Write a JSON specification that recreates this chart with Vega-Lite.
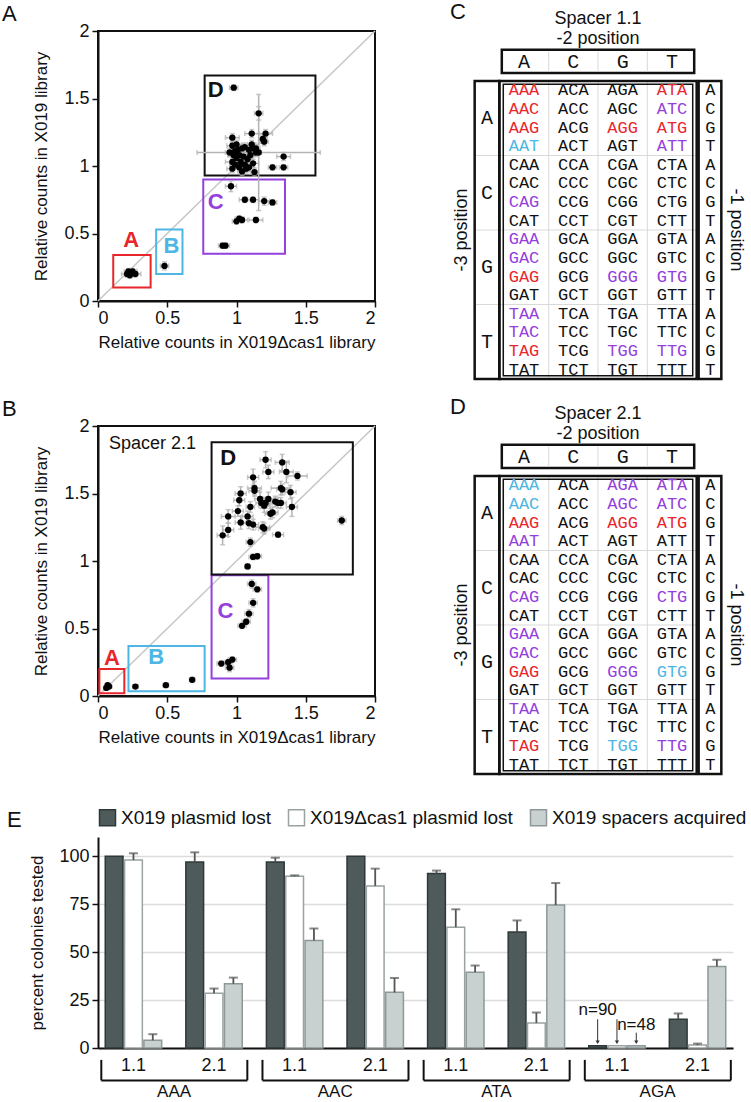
{
"$schema":"https://vega.github.io/schema/vega-lite/v6.json",
"background":"white",
"padding":{"left":0,"top":0,"right":3,"bottom":0},
"config":{
 "font":"Liberation Sans",
 "view":{"stroke":null},
 "axis":{"labelFont":"Liberation Sans","titleFont":"Liberation Sans","labelColor":"#111","titleColor":"#111","titleFontWeight":"normal","grid":false,"tickColor":"#111","domainColor":"#111","labelFontSize":18,"titleFontSize":17},
 "title":{"font":"Liberation Sans","fontWeight":"normal","color":"#111","fontSize":22},
 "text":{"font":"Liberation Sans","color":"#111"},
 "legend":{"labelFont":"Liberation Sans","labelColor":"#111"}
},
"datasets":{
 "sc1":[
  {"x":0.21,"y":0.20,"ex":0.04,"ey":0.02},{"x":0.22,"y":0.22,"ex":0.03,"ey":0.02},{"x":0.25,"y":0.22,"ex":0.03,"ey":0.02},{"x":0.27,"y":0.20,"ex":0.04,"ey":0.02},{"x":0.23,"y":0.19,"ex":0.03,"ey":0.02},
  {"x":0.48,"y":0.26,"ex":0.03,"ey":0.03},
  {"x":0.96,"y":0.85,"ex":0.04,"ey":0.04},{"x":1.06,"y":0.75,"ex":0.04,"ey":0.02},{"x":1.12,"y":0.75,"ex":0.04,"ey":0.02},{"x":1.20,"y":0.74,"ex":0.04,"ey":0.03},{"x":1.26,"y":0.73,"ex":0.03,"ey":0.02},{"x":1.00,"y":0.59,"ex":0.03,"ey":0.02},{"x":1.02,"y":0.61,"ex":0.03,"ey":0.02},{"x":1.04,"y":0.60,"ex":0.04,"ey":0.02},{"x":1.14,"y":0.60,"ex":0.05,"ey":0.02},{"x":0.90,"y":0.41,"ex":0.03,"ey":0.02},{"x":0.92,"y":0.41,"ex":0.03,"ey":0.02},
  {"x":0.98,"y":1.58,"ex":0.03,"ey":0.02},{"x":1.16,"y":1.39,"ex":0.03,"ey":0.05},{"x":1.16,"y":1.10,"ex":0.445,"ey":0.43},{"x":0.97,"y":1.21,"ex":0.05,"ey":0.03},{"x":1.11,"y":1.24,"ex":0.05,"ey":0.03},{"x":1.21,"y":1.24,"ex":0.05,"ey":0.03},{"x":1.19,"y":1.20,"ex":0.03,"ey":0.03},{"x":1.20,"y":1.18,"ex":0.03,"ey":0.03},{"x":1.34,"y":1.07,"ex":0.05,"ey":0.03},{"x":1.34,"y":0.99,"ex":0.03,"ey":0.02},{"x":1.26,"y":0.99,"ex":0.03,"ey":0.02},{"x":1.12,"y":1.02,"ex":0.04,"ey":0.03},{"x":1.13,"y":0.955,"ex":0.03,"ey":0.03},{"x":0.97,"y":1.15,"ex":0.04,"ey":0.03},{"x":0.99,"y":1.11,"ex":0.04,"ey":0.03},{"x":1.02,"y":1.08,"ex":0.04,"ey":0.03},{"x":1.04,"y":1.13,"ex":0.03,"ey":0.03},{"x":1.06,"y":1.14,"ex":0.03,"ey":0.03},{"x":1.09,"y":1.12,"ex":0.04,"ey":0.03},{"x":1.11,"y":1.16,"ex":0.03,"ey":0.03},{"x":1.14,"y":1.10,"ex":0.04,"ey":0.03},{"x":1.00,"y":1.06,"ex":0.04,"ey":0.03},{"x":1.03,"y":1.03,"ex":0.04,"ey":0.03},{"x":1.05,"y":1.07,"ex":0.03,"ey":0.03},{"x":1.10,"y":1.08,"ex":0.03,"ey":0.03},{"x":0.97,"y":1.03,"ex":0.05,"ey":0.03},{"x":0.99,"y":1.01,"ex":0.04,"ey":0.03},{"x":1.02,"y":0.99,"ex":0.04,"ey":0.03},{"x":1.06,"y":1.01,"ex":0.03,"ey":0.03},{"x":1.07,"y":0.98,"ex":0.03,"ey":0.03},{"x":0.97,"y":0.98,"ex":0.04,"ey":0.03},{"x":1.04,"y":0.96,"ex":0.03,"ey":0.03},{"x":1.09,"y":0.99,"ex":0.03,"ey":0.03},{"x":1.00,"y":1.16,"ex":0.04,"ey":0.03},{"x":0.98,"y":1.08,"ex":0.04,"ey":0.03},{"x":1.12,"y":1.13,"ex":0.03,"ey":0.03},{"x":1.14,"y":1.13,"ex":0.03,"ey":0.03},{"x":1.08,"y":1.05,"ex":0.04,"ey":0.03},{"x":0.95,"y":1.10,"ex":0.03,"ey":0.03},{"x":1.01,"y":1.12,"ex":0.04,"ey":0.03}
 ],
 "sc2":[
  {"x":0.06,"y":0.06,"ex":0.02,"ey":0.01},{"x":0.08,"y":0.07,"ex":0.02,"ey":0.01},{"x":0.07,"y":0.08,"ex":0.02,"ey":0.01},
  {"x":0.27,"y":0.07,"ex":0.02,"ey":0.01},{"x":0.49,"y":0.08,"ex":0.02,"ey":0.01},{"x":0.68,"y":0.12,"ex":0.02,"ey":0.02},
  {"x":1.11,"y":0.83,"ex":0.03,"ey":0.03},{"x":1.15,"y":0.79,"ex":0.03,"ey":0.02},{"x":1.12,"y":0.69,"ex":0.03,"ey":0.03},{"x":1.09,"y":0.61,"ex":0.03,"ey":0.03},{"x":1.07,"y":0.55,"ex":0.03,"ey":0.02},{"x":1.04,"y":0.52,"ex":0.03,"ey":0.02},{"x":0.89,"y":0.24,"ex":0.03,"ey":0.02},{"x":0.94,"y":0.25,"ex":0.03,"ey":0.02},{"x":0.95,"y":0.21,"ex":0.03,"ey":0.03},{"x":0.97,"y":0.27,"ex":0.03,"ey":0.02},
  {"x":1.21,"y":1.75,"ex":0.04,"ey":0.06},{"x":1.33,"y":1.73,"ex":0.05,"ey":0.06},{"x":1.23,"y":1.66,"ex":0.04,"ey":0.05},{"x":1.36,"y":1.66,"ex":0.05,"ey":0.08},{"x":1.44,"y":1.63,"ex":0.07,"ey":0.03},{"x":1.12,"y":1.62,"ex":0.04,"ey":0.06},{"x":1.13,"y":1.54,"ex":0.05,"ey":0.05},{"x":1.13,"y":1.52,"ex":0.04,"ey":0.04},{"x":1.32,"y":1.54,"ex":0.07,"ey":0.05},{"x":1.33,"y":1.53,"ex":0.04,"ey":0.04},{"x":1.39,"y":1.51,"ex":0.04,"ey":0.05},{"x":1.03,"y":1.50,"ex":0.04,"ey":0.05},{"x":1.02,"y":1.45,"ex":0.04,"ey":0.04},{"x":1.17,"y":1.46,"ex":0.04,"ey":0.05},{"x":1.18,"y":1.43,"ex":0.04,"ey":0.04},{"x":1.20,"y":1.41,"ex":0.04,"ey":0.05},{"x":1.21,"y":1.43,"ex":0.04,"ey":0.04},{"x":1.23,"y":1.46,"ex":0.04,"ey":0.05},{"x":1.28,"y":1.44,"ex":0.04,"ey":0.04},{"x":1.30,"y":1.43,"ex":0.04,"ey":0.04},{"x":1.32,"y":1.43,"ex":0.04,"ey":0.04},{"x":1.10,"y":1.40,"ex":0.03,"ey":0.04},{"x":1.01,"y":1.37,"ex":0.04,"ey":0.04},{"x":0.94,"y":1.33,"ex":0.05,"ey":0.05},{"x":1.08,"y":1.33,"ex":0.04,"ey":0.04},{"x":1.245,"y":1.35,"ex":0.04,"ey":0.04},{"x":1.26,"y":1.36,"ex":0.04,"ey":0.04},{"x":1.40,"y":1.40,"ex":0.04,"ey":0.07},{"x":1.03,"y":1.285,"ex":0.04,"ey":0.05},{"x":1.09,"y":1.28,"ex":0.04,"ey":0.04},{"x":1.12,"y":1.27,"ex":0.04,"ey":0.04},{"x":0.94,"y":1.23,"ex":0.04,"ey":0.05},{"x":1.19,"y":1.25,"ex":0.05,"ey":0.04},{"x":1.20,"y":1.24,"ex":0.04,"ey":0.04},{"x":1.30,"y":1.195,"ex":0.04,"ey":0.02},{"x":0.90,"y":1.19,"ex":0.04,"ey":0.07},{"x":1.10,"y":1.14,"ex":0.03,"ey":0.03},{"x":1.12,"y":1.03,"ex":0.03,"ey":0.02},{"x":1.15,"y":1.035,"ex":0.03,"ey":0.02},{"x":1.08,"y":0.96,"ex":0.02,"ey":0.02},{"x":1.76,"y":1.30,"ex":0.03,"ey":0.03}
 ],
 "boxes":[
  {"p":"s1","cls":"A","x1":0.11,"x2":0.38,"y1":0.10,"y2":0.34,"lx":0.24,"ly":0.45},
  {"p":"s1","cls":"B","x1":0.42,"x2":0.61,"y1":0.20,"y2":0.53,"lx":0.53,"ly":0.41},
  {"p":"s1","cls":"C","x1":0.76,"x2":1.35,"y1":0.35,"y2":0.90,"lx":0.85,"ly":0.73},
  {"p":"s1","cls":"D","x1":0.77,"x2":1.57,"y1":0.93,"y2":1.67,"lx":0.85,"ly":1.56},
  {"p":"s2","cls":"A","x1":0.01,"x2":0.19,"y1":0.02,"y2":0.20,"lx":0.10,"ly":0.28},
  {"p":"s2","cls":"B","x1":0.22,"x2":0.77,"y1":0.035,"y2":0.37,"lx":0.42,"ly":0.29},
  {"p":"s2","cls":"C","x1":0.82,"x2":1.23,"y1":0.13,"y2":0.895,"lx":0.92,"ly":0.63},
  {"p":"s2","cls":"D","x1":0.82,"x2":1.84,"y1":0.90,"y2":1.88,"lx":0.94,"ly":1.76}
 ],
 "codons":[
  {"c":"AAA","r":"AA","k":"A","a":"A","b":"B"},{"c":"ACA","r":"AA","k":"C","a":"D","b":"D"},{"c":"AGA","r":"AA","k":"G","a":"D","b":"C"},{"c":"ATA","r":"AA","k":"T","a":"A","b":"C"},
  {"c":"AAC","r":"AC","k":"A","a":"A","b":"B"},{"c":"ACC","r":"AC","k":"C","a":"D","b":"D"},{"c":"AGC","r":"AC","k":"G","a":"D","b":"C"},{"c":"ATC","r":"AC","k":"T","a":"C","b":"C"},
  {"c":"AAG","r":"AG","k":"A","a":"A","b":"A"},{"c":"ACG","r":"AG","k":"C","a":"D","b":"D"},{"c":"AGG","r":"AG","k":"G","a":"A","b":"A"},{"c":"ATG","r":"AG","k":"T","a":"A","b":"A"},
  {"c":"AAT","r":"AT","k":"A","a":"B","b":"C"},{"c":"ACT","r":"AT","k":"C","a":"D","b":"D"},{"c":"AGT","r":"AT","k":"G","a":"D","b":"D"},{"c":"ATT","r":"AT","k":"T","a":"C","b":"D"},
  {"c":"CAA","r":"CA","k":"A","a":"D","b":"D"},{"c":"CCA","r":"CA","k":"C","a":"D","b":"D"},{"c":"CGA","r":"CA","k":"G","a":"D","b":"D"},{"c":"CTA","r":"CA","k":"T","a":"D","b":"D"},
  {"c":"CAC","r":"CC","k":"A","a":"D","b":"D"},{"c":"CCC","r":"CC","k":"C","a":"D","b":"D"},{"c":"CGC","r":"CC","k":"G","a":"D","b":"D"},{"c":"CTC","r":"CC","k":"T","a":"D","b":"D"},
  {"c":"CAG","r":"CG","k":"A","a":"C","b":"C"},{"c":"CCG","r":"CG","k":"C","a":"D","b":"D"},{"c":"CGG","r":"CG","k":"G","a":"D","b":"D"},{"c":"CTG","r":"CG","k":"T","a":"D","b":"C"},
  {"c":"CAT","r":"CT","k":"A","a":"D","b":"D"},{"c":"CCT","r":"CT","k":"C","a":"D","b":"D"},{"c":"CGT","r":"CT","k":"G","a":"D","b":"D"},{"c":"CTT","r":"CT","k":"T","a":"D","b":"D"},
  {"c":"GAA","r":"GA","k":"A","a":"C","b":"C"},{"c":"GCA","r":"GA","k":"C","a":"D","b":"D"},{"c":"GGA","r":"GA","k":"G","a":"D","b":"D"},{"c":"GTA","r":"GA","k":"T","a":"D","b":"D"},
  {"c":"GAC","r":"GC","k":"A","a":"C","b":"C"},{"c":"GCC","r":"GC","k":"C","a":"D","b":"D"},{"c":"GGC","r":"GC","k":"G","a":"D","b":"D"},{"c":"GTC","r":"GC","k":"T","a":"D","b":"D"},
  {"c":"GAG","r":"GG","k":"A","a":"A","b":"A"},{"c":"GCG","r":"GG","k":"C","a":"D","b":"D"},{"c":"GGG","r":"GG","k":"G","a":"C","b":"C"},{"c":"GTG","r":"GG","k":"T","a":"C","b":"B"},
  {"c":"GAT","r":"GT","k":"A","a":"D","b":"D"},{"c":"GCT","r":"GT","k":"C","a":"D","b":"D"},{"c":"GGT","r":"GT","k":"G","a":"D","b":"D"},{"c":"GTT","r":"GT","k":"T","a":"D","b":"D"},
  {"c":"TAA","r":"TA","k":"A","a":"C","b":"C"},{"c":"TCA","r":"TA","k":"C","a":"D","b":"D"},{"c":"TGA","r":"TA","k":"G","a":"D","b":"D"},{"c":"TTA","r":"TA","k":"T","a":"D","b":"D"},
  {"c":"TAC","r":"TC","k":"A","a":"C","b":"D"},{"c":"TCC","r":"TC","k":"C","a":"D","b":"D"},{"c":"TGC","r":"TC","k":"G","a":"D","b":"D"},{"c":"TTC","r":"TC","k":"T","a":"D","b":"D"},
  {"c":"TAG","r":"TG","k":"A","a":"A","b":"A"},{"c":"TCG","r":"TG","k":"C","a":"D","b":"D"},{"c":"TGG","r":"TG","k":"G","a":"C","b":"B"},{"c":"TTG","r":"TG","k":"T","a":"C","b":"C"},
  {"c":"TAT","r":"TT","k":"A","a":"D","b":"D"},{"c":"TCT","r":"TT","k":"C","a":"D","b":"D"},{"c":"TGT","r":"TT","k":"G","a":"D","b":"D"},{"c":"TTT","r":"TT","k":"T","a":"D","b":"D"}
 ],
 "cols":[{"k":"A"},{"k":"C"},{"k":"G"},{"k":"T"}],
 "seps":[{"r":"AT"},{"r":"CT"},{"r":"GT"}],
 "grpL":[{"r":"AC","n":"A"},{"r":"CC","n":"C"},{"r":"GC","n":"G"},{"r":"TC","n":"T"}],
 "rowsR":[{"r":"AA","n":"A"},{"r":"AC","n":"C"},{"r":"AG","n":"G"},{"r":"AT","n":"T"},{"r":"CA","n":"A"},{"r":"CC","n":"C"},{"r":"CG","n":"G"},{"r":"CT","n":"T"},{"r":"GA","n":"A"},{"r":"GC","n":"C"},{"r":"GG","n":"G"},{"r":"GT","n":"T"},{"r":"TA","n":"A"},{"r":"TC","n":"C"},{"r":"TG","n":"G"},{"r":"TT","n":"T"}],
 "bars":[
  {"sub":"AAA|1.1","series":"X019 plasmid lost","v":100,"hi":null},
  {"sub":"AAA|1.1","series":"X019Δcas1 plasmid lost","v":98,"hi":101.5},
  {"sub":"AAA|1.1","series":"X019 spacers acquired","v":4,"hi":7.2},
  {"sub":"AAA|2.1","series":"X019 plasmid lost","v":97,"hi":102},
  {"sub":"AAA|2.1","series":"X019Δcas1 plasmid lost","v":28.5,"hi":31},
  {"sub":"AAA|2.1","series":"X019 spacers acquired","v":33.5,"hi":36.7},
  {"sub":"AAC|1.1","series":"X019 plasmid lost","v":97,"hi":99.2},
  {"sub":"AAC|1.1","series":"X019Δcas1 plasmid lost","v":89.5,"hi":90},
  {"sub":"AAC|1.1","series":"X019 spacers acquired","v":56,"hi":62.3},
  {"sub":"AAC|2.1","series":"X019 plasmid lost","v":100,"hi":null},
  {"sub":"AAC|2.1","series":"X019Δcas1 plasmid lost","v":84.5,"hi":93.5},
  {"sub":"AAC|2.1","series":"X019 spacers acquired","v":29,"hi":36.5},
  {"sub":"ATA|1.1","series":"X019 plasmid lost","v":91,"hi":92.5},
  {"sub":"ATA|1.1","series":"X019Δcas1 plasmid lost","v":63,"hi":72.3},
  {"sub":"ATA|1.1","series":"X019 spacers acquired","v":39.5,"hi":43},
  {"sub":"ATA|2.1","series":"X019 plasmid lost","v":60.5,"hi":66.5},
  {"sub":"ATA|2.1","series":"X019Δcas1 plasmid lost","v":13,"hi":18.5},
  {"sub":"ATA|2.1","series":"X019 spacers acquired","v":74.5,"hi":86},
  {"sub":"AGA|1.1","series":"X019 plasmid lost","v":1.2,"hi":null},
  {"sub":"AGA|1.1","series":"X019Δcas1 plasmid lost","v":1.2,"hi":null},
  {"sub":"AGA|1.1","series":"X019 spacers acquired","v":1.2,"hi":null},
  {"sub":"AGA|2.1","series":"X019 plasmid lost","v":15,"hi":18},
  {"sub":"AGA|2.1","series":"X019Δcas1 plasmid lost","v":1.5,"hi":2.3},
  {"sub":"AGA|2.1","series":"X019 spacers acquired","v":42.5,"hi":46}
 ],
 "subs":[{"sub":"AAA|1.1","lab":"1.1"},{"sub":"AAA|2.1","lab":"2.1"},{"sub":"AAC|1.1","lab":"1.1"},{"sub":"AAC|2.1","lab":"2.1"},{"sub":"ATA|1.1","lab":"1.1"},{"sub":"ATA|2.1","lab":"2.1"},{"sub":"AGA|1.1","lab":"1.1"},{"sub":"AGA|2.1","lab":"2.1"}],
 "groups":[{"g":"AAA","from":"AAA|1.1","to":"AAA|2.1"},{"g":"AAC","from":"AAC|1.1","to":"AAC|2.1"},{"g":"ATA","from":"ATA|1.1","to":"ATA|2.1"},{"g":"AGA","from":"AGA|1.1","to":"AGA|2.1"}]
},
"resolve":{"scale":{"stroke":"independent","fill":"independent","color":"independent"},"legend":{"stroke":"independent","fill":"independent","color":"independent"}},
"vconcat":[
 {"vconcat":[
  {"hconcat":[
   {"vconcat":[
    {"width":1,"height":2,"data":{"values":[]},"mark":"point"},
    {"width":277,"height":270,
     "view":{"stroke":"#111","strokeWidth":2},
     "title":{"text":"A","anchor":"start","frame":"bounds","offset":-4,"dx":-31},
     "layer":[
      {"data":{"values":[{}]},"mark":{"type":"rule","color":"#c6c6c6","strokeWidth":1.5},
       "encoding":{"x":{"datum":0,"type":"quantitative","title":"Relative counts in X019Δcas1 library"},"y":{"datum":0,"type":"quantitative","title":"Relative counts in X019 library"},"x2":{"datum":2},"y2":{"datum":2}}},
      {"data":{"name":"boxes"},"transform":[{"filter":"datum.p == 's1'"}],"mark":{"type":"rect","fillOpacity":0,"strokeWidth":2},
       "encoding":{"x":{"field":"x1","type":"quantitative","title":"Relative counts in X019Δcas1 library"},"x2":{"field":"x2"},"y":{"field":"y1","type":"quantitative","title":"Relative counts in X019 library"},"y2":{"field":"y2"},
        "stroke":{"field":"cls","type":"nominal","scale":{"domain":["A","B","C","D"],"range":["#e8262c","#4cb6e4","#9440de","#111111"]},"legend":null}}},
      {"data":{"name":"boxes"},"transform":[{"filter":"datum.p == 's1'"}],"mark":{"type":"text","fontSize":22,"fontWeight":"bold"},
       "encoding":{"x":{"field":"lx","type":"quantitative","title":"Relative counts in X019Δcas1 library"},"y":{"field":"ly","type":"quantitative","title":"Relative counts in X019 library"},"text":{"field":"cls"},
        "color":{"field":"cls","type":"nominal","scale":{"domain":["A","B","C","D"],"range":["#e8262c","#4cb6e4","#9440de","#111111"]},"legend":null}}},
      {"data":{"name":"sc1"},"mark":{"type":"errorbar","ticks":true,"color":"#b3b3b3","thickness":1.5},
       "encoding":{"x":{"field":"x","type":"quantitative","title":"Relative counts in X019Δcas1 library"},"xError":{"field":"ex"},"y":{"field":"y","type":"quantitative","title":"Relative counts in X019 library"}}},
      {"data":{"name":"sc1"},"mark":{"type":"errorbar","ticks":true,"color":"#b3b3b3","thickness":1.5},
       "encoding":{"y":{"field":"y","type":"quantitative","title":"Relative counts in X019 library"},"yError":{"field":"ey"},"x":{"field":"x","type":"quantitative","title":"Relative counts in X019Δcas1 library"}}},
      {"data":{"name":"sc1"},"mark":{"type":"circle","size":40,"color":"#000","opacity":1},
       "encoding":{
        "x":{"field":"x","type":"quantitative","scale":{"domain":[0,2],"nice":false},"axis":{"title":"Relative counts in X019Δcas1 library","values":[0,0.5,1,1.5,2],"format":"~g","tickSize":6,"tickWidth":1.5,"domainWidth":2,"labelPadding":2,"titlePadding":7}},
        "y":{"field":"y","type":"quantitative","scale":{"domain":[0,2],"nice":false},"axis":{"title":"Relative counts in X019 library","values":[0,0.5,1,1.5,2],"format":"~g","tickSize":6,"tickWidth":1.5,"domainWidth":2,"labelPadding":3,"titlePadding":13}}}}
     ]}
   ],"spacing":0},
   {"vconcat":[
     {"width":296,"height":73,
      "layer":[
       {"data":{"values":[{}]},"mark":{"type":"rect","fillOpacity":0,"stroke":"#111","strokeWidth":2.5},
        "encoding":{"x":{"datum":"A","type":"nominal","bandPosition":0.1,"scale":{"domain":["P3","L","A","A+","C","C+","G","G+","T","T+","R","P1"],"paddingInner":0,"paddingOuter":0},"axis":null},"x2":{"datum":"T+","bandPosition":0.9},
         "y":{"datum":"h","type":"nominal","bandPosition":0.04,"scale":{"domain":["t1","t2","h"],"paddingInner":0,"paddingOuter":0},"axis":null},"y2":{"datum":"h","bandPosition":1}}},
       {"data":{"name":"cols"},"transform":[{"filter":"datum.k != 'A'"}],"mark":{"type":"rule","color":"#d9d9d9","strokeWidth":1},
        "encoding":{"x":{"field":"k","type":"nominal","bandPosition":0,"axis":null},"y":{"datum":"h","type":"nominal","bandPosition":0.12,"axis":null},"y2":{"datum":"h","bandPosition":0.94}}},
       {"data":{"name":"cols"},"mark":{"type":"text","font":"Liberation Mono","fontSize":20},
        "encoding":{"x":{"field":"k","type":"nominal","bandPosition":1,"axis":null},"y":{"datum":"h","type":"nominal","bandPosition":0.56,"axis":null},"text":{"field":"k"}}},
       {"data":{"values":[{}]},"mark":{"type":"text","text":"Spacer 1.1","fontSize":18},
        "encoding":{"x":{"datum":"C+","type":"nominal","bandPosition":1,"axis":null},"y":{"datum":"t1","type":"nominal","bandPosition":0.8,"axis":null}}},
       {"data":{"values":[{}]},"mark":{"type":"text","text":"-2 position","fontSize":18},
        "encoding":{"x":{"datum":"C+","type":"nominal","bandPosition":1,"axis":null},"y":{"datum":"t2","type":"nominal","bandPosition":0.6,"axis":null}}},
       {"data":{"values":[{}]},"mark":{"type":"text","text":"C","fontSize":22,"align":"left"},
        "encoding":{"x":{"datum":"P3","type":"nominal","bandPosition":0,"axis":null},"y":{"datum":"t1","type":"nominal","bandPosition":0.5,"axis":null}}}
      ]},
     {"width":296,"height":298,
      "layer":[
       {"data":{"name":"seps"},"mark":{"type":"rule","color":"#d9d9d9","strokeWidth":1},
        "encoding":{"x":{"datum":"L","type":"nominal","bandPosition":0,"scale":{"domain":["P3","L","A","A+","C","C+","G","G+","T","T+","R","P1"],"paddingInner":0,"paddingOuter":0},"axis":null},"x2":{"datum":"T+","bandPosition":1},
         "y":{"field":"r","type":"nominal","bandPosition":1,"scale":{"domain":["AA","AC","AG","AT","CA","CC","CG","CT","GA","GC","GG","GT","TA","TC","TG","TT"],"paddingInner":0,"paddingOuter":0},"axis":null}}},
       {"data":{"name":"cols"},"transform":[{"filter":"datum.k != 'A'"}],"mark":{"type":"rule","color":"#d9d9d9","strokeWidth":1},
        "encoding":{"x":{"field":"k","type":"nominal","bandPosition":0,"axis":null},"y":{"datum":"AA","type":"nominal","bandPosition":0,"axis":null},"y2":{"datum":"TT","bandPosition":1}}},
       {"data":{"values":[{}]},"mark":{"type":"rect","fillOpacity":0,"stroke":"#111","strokeWidth":2.5},
        "encoding":{"x":{"datum":"L","type":"nominal","bandPosition":0,"axis":null},"x2":{"datum":"L","bandPosition":1},"y":{"datum":"AA","type":"nominal","bandPosition":0,"axis":null},"y2":{"datum":"TT","bandPosition":1}}},
       {"data":{"values":[{}]},"mark":{"type":"rect","fillOpacity":0,"stroke":"#111","strokeWidth":2.5},
        "encoding":{"x":{"datum":"A","type":"nominal","bandPosition":0,"axis":null},"x2":{"datum":"T+","bandPosition":1},"y":{"datum":"AA","type":"nominal","bandPosition":0,"axis":null},"y2":{"datum":"TT","bandPosition":1}}},
       {"data":{"values":[{}]},"mark":{"type":"rect","fillOpacity":0,"stroke":"#111","strokeWidth":1.5},
        "encoding":{"x":{"datum":"A","type":"nominal","bandPosition":0.16,"axis":null},"x2":{"datum":"T+","bandPosition":0.84},"y":{"datum":"AA","type":"nominal","bandPosition":0.17,"axis":null},"y2":{"datum":"TT","bandPosition":0.83}}},
       {"data":{"values":[{}]},"mark":{"type":"rect","fillOpacity":0,"stroke":"#111","strokeWidth":2.5},
        "encoding":{"x":{"datum":"R","type":"nominal","bandPosition":0.08,"axis":null},"x2":{"datum":"R","bandPosition":1},"y":{"datum":"AA","type":"nominal","bandPosition":0,"axis":null},"y2":{"datum":"TT","bandPosition":1}}},
       {"data":{"name":"codons"},"mark":{"type":"text","font":"Liberation Mono","fontSize":17},
        "encoding":{"x":{"field":"k","type":"nominal","bandPosition":1,"axis":null},"y":{"field":"r","type":"nominal","axis":null},"text":{"field":"c"},
         "color":{"field":"a","type":"nominal","scale":{"domain":["A","B","C","D"],"range":["#e8262c","#4cb6e4","#9440de","#111111"]},"legend":null}}},
       {"data":{"name":"grpL"},"mark":{"type":"text","font":"Liberation Mono","fontSize":20},
        "encoding":{"x":{"datum":"L","type":"nominal","axis":null},"y":{"field":"r","type":"nominal","bandPosition":1,"axis":null},"text":{"field":"n"}}},
       {"data":{"name":"rowsR"},"mark":{"type":"text","font":"Liberation Mono","fontSize":17},
        "encoding":{"x":{"datum":"R","type":"nominal","bandPosition":0.55,"axis":null},"y":{"field":"r","type":"nominal","axis":null},"text":{"field":"n"}}},
       {"data":{"values":[{}]},"mark":{"type":"text","text":"-3 position","fontSize":18,"angle":270},
        "encoding":{"x":{"datum":"P3","type":"nominal","bandPosition":0.5,"axis":null},"y":{"datum":"CT","type":"nominal","bandPosition":1,"axis":null}}},
       {"data":{"values":[{}]},"mark":{"type":"text","text":"-1 position","fontSize":18,"angle":90},
        "encoding":{"x":{"datum":"P1","type":"nominal","bandPosition":0.6,"axis":null},"y":{"datum":"CT","type":"nominal","bandPosition":1,"axis":null}}}
      ]}
    ],"spacing":4}
  ],"spacing":73},
  {"hconcat":[
   {"vconcat":[
    {"width":1,"height":2,"data":{"values":[]},"mark":"point"},
    {"width":277,"height":270,
     "view":{"stroke":"#111","strokeWidth":2},
     "title":{"text":"B","anchor":"start","frame":"bounds","offset":-4,"dx":-31},
     "layer":[
      {"data":{"values":[{}]},"mark":{"type":"rule","color":"#c6c6c6","strokeWidth":1.5},
       "encoding":{"x":{"datum":0,"type":"quantitative","title":"Relative counts in X019Δcas1 library"},"y":{"datum":0,"type":"quantitative","title":"Relative counts in X019 library"},"x2":{"datum":2},"y2":{"datum":2}}},
      {"data":{"name":"boxes"},"transform":[{"filter":"datum.p == 's2'"}],"mark":{"type":"rect","fillOpacity":0,"strokeWidth":2},
       "encoding":{"x":{"field":"x1","type":"quantitative","title":"Relative counts in X019Δcas1 library"},"x2":{"field":"x2"},"y":{"field":"y1","type":"quantitative","title":"Relative counts in X019 library"},"y2":{"field":"y2"},
        "stroke":{"field":"cls","type":"nominal","scale":{"domain":["A","B","C","D"],"range":["#e8262c","#4cb6e4","#9440de","#111111"]},"legend":null}}},
      {"data":{"name":"boxes"},"transform":[{"filter":"datum.p == 's2'"}],"mark":{"type":"text","fontSize":22,"fontWeight":"bold"},
       "encoding":{"x":{"field":"lx","type":"quantitative","title":"Relative counts in X019Δcas1 library"},"y":{"field":"ly","type":"quantitative","title":"Relative counts in X019 library"},"text":{"field":"cls"},
        "color":{"field":"cls","type":"nominal","scale":{"domain":["A","B","C","D"],"range":["#e8262c","#4cb6e4","#9440de","#111111"]},"legend":null}}},
      {"data":{"values":[{}]},"mark":{"type":"text","text":"Spacer 2.1","fontSize":18,"align":"left"},
       "encoding":{"x":{"datum":0.08,"type":"quantitative","title":"Relative counts in X019Δcas1 library"},"y":{"datum":1.87,"type":"quantitative","title":"Relative counts in X019 library"}}},
      {"data":{"name":"sc2"},"mark":{"type":"errorbar","ticks":true,"color":"#b3b3b3","thickness":1.5},
       "encoding":{"x":{"field":"x","type":"quantitative","title":"Relative counts in X019Δcas1 library"},"xError":{"field":"ex"},"y":{"field":"y","type":"quantitative","title":"Relative counts in X019 library"}}},
      {"data":{"name":"sc2"},"mark":{"type":"errorbar","ticks":true,"color":"#b3b3b3","thickness":1.5},
       "encoding":{"y":{"field":"y","type":"quantitative","title":"Relative counts in X019 library"},"yError":{"field":"ey"},"x":{"field":"x","type":"quantitative","title":"Relative counts in X019Δcas1 library"}}},
      {"data":{"name":"sc2"},"mark":{"type":"circle","size":40,"color":"#000","opacity":1},
       "encoding":{
        "x":{"field":"x","type":"quantitative","scale":{"domain":[0,2],"nice":false},"axis":{"title":"Relative counts in X019Δcas1 library","values":[0,0.5,1,1.5,2],"format":"~g","tickSize":6,"tickWidth":1.5,"domainWidth":2,"labelPadding":2,"titlePadding":7}},
        "y":{"field":"y","type":"quantitative","scale":{"domain":[0,2],"nice":false},"axis":{"title":"Relative counts in X019 library","values":[0,0.5,1,1.5,2],"format":"~g","tickSize":6,"tickWidth":1.5,"domainWidth":2,"labelPadding":3,"titlePadding":13}}}}
     ]}
   ],"spacing":0},
   {"vconcat":[
     {"width":296,"height":73,
      "layer":[
       {"data":{"values":[{}]},"mark":{"type":"rect","fillOpacity":0,"stroke":"#111","strokeWidth":2.5},
        "encoding":{"x":{"datum":"A","type":"nominal","bandPosition":0.1,"scale":{"domain":["P3","L","A","A+","C","C+","G","G+","T","T+","R","P1"],"paddingInner":0,"paddingOuter":0},"axis":null},"x2":{"datum":"T+","bandPosition":0.9},
         "y":{"datum":"h","type":"nominal","bandPosition":0.04,"scale":{"domain":["t1","t2","h"],"paddingInner":0,"paddingOuter":0},"axis":null},"y2":{"datum":"h","bandPosition":1}}},
       {"data":{"name":"cols"},"transform":[{"filter":"datum.k != 'A'"}],"mark":{"type":"rule","color":"#d9d9d9","strokeWidth":1},
        "encoding":{"x":{"field":"k","type":"nominal","bandPosition":0,"axis":null},"y":{"datum":"h","type":"nominal","bandPosition":0.12,"axis":null},"y2":{"datum":"h","bandPosition":0.94}}},
       {"data":{"name":"cols"},"mark":{"type":"text","font":"Liberation Mono","fontSize":20},
        "encoding":{"x":{"field":"k","type":"nominal","bandPosition":1,"axis":null},"y":{"datum":"h","type":"nominal","bandPosition":0.56,"axis":null},"text":{"field":"k"}}},
       {"data":{"values":[{}]},"mark":{"type":"text","text":"Spacer 2.1","fontSize":18},
        "encoding":{"x":{"datum":"C+","type":"nominal","bandPosition":1,"axis":null},"y":{"datum":"t1","type":"nominal","bandPosition":0.8,"axis":null}}},
       {"data":{"values":[{}]},"mark":{"type":"text","text":"-2 position","fontSize":18},
        "encoding":{"x":{"datum":"C+","type":"nominal","bandPosition":1,"axis":null},"y":{"datum":"t2","type":"nominal","bandPosition":0.6,"axis":null}}},
       {"data":{"values":[{}]},"mark":{"type":"text","text":"D","fontSize":22,"align":"left"},
        "encoding":{"x":{"datum":"P3","type":"nominal","bandPosition":0,"axis":null},"y":{"datum":"t1","type":"nominal","bandPosition":0.5,"axis":null}}}
      ]},
     {"width":296,"height":298,
      "layer":[
       {"data":{"name":"seps"},"mark":{"type":"rule","color":"#d9d9d9","strokeWidth":1},
        "encoding":{"x":{"datum":"L","type":"nominal","bandPosition":0,"scale":{"domain":["P3","L","A","A+","C","C+","G","G+","T","T+","R","P1"],"paddingInner":0,"paddingOuter":0},"axis":null},"x2":{"datum":"T+","bandPosition":1},
         "y":{"field":"r","type":"nominal","bandPosition":1,"scale":{"domain":["AA","AC","AG","AT","CA","CC","CG","CT","GA","GC","GG","GT","TA","TC","TG","TT"],"paddingInner":0,"paddingOuter":0},"axis":null}}},
       {"data":{"name":"cols"},"transform":[{"filter":"datum.k != 'A'"}],"mark":{"type":"rule","color":"#d9d9d9","strokeWidth":1},
        "encoding":{"x":{"field":"k","type":"nominal","bandPosition":0,"axis":null},"y":{"datum":"AA","type":"nominal","bandPosition":0,"axis":null},"y2":{"datum":"TT","bandPosition":1}}},
       {"data":{"values":[{}]},"mark":{"type":"rect","fillOpacity":0,"stroke":"#111","strokeWidth":2.5},
        "encoding":{"x":{"datum":"L","type":"nominal","bandPosition":0,"axis":null},"x2":{"datum":"L","bandPosition":1},"y":{"datum":"AA","type":"nominal","bandPosition":0,"axis":null},"y2":{"datum":"TT","bandPosition":1}}},
       {"data":{"values":[{}]},"mark":{"type":"rect","fillOpacity":0,"stroke":"#111","strokeWidth":2.5},
        "encoding":{"x":{"datum":"A","type":"nominal","bandPosition":0,"axis":null},"x2":{"datum":"T+","bandPosition":1},"y":{"datum":"AA","type":"nominal","bandPosition":0,"axis":null},"y2":{"datum":"TT","bandPosition":1}}},
       {"data":{"values":[{}]},"mark":{"type":"rect","fillOpacity":0,"stroke":"#111","strokeWidth":1.5},
        "encoding":{"x":{"datum":"A","type":"nominal","bandPosition":0.16,"axis":null},"x2":{"datum":"T+","bandPosition":0.84},"y":{"datum":"AA","type":"nominal","bandPosition":0.17,"axis":null},"y2":{"datum":"TT","bandPosition":0.83}}},
       {"data":{"values":[{}]},"mark":{"type":"rect","fillOpacity":0,"stroke":"#111","strokeWidth":2.5},
        "encoding":{"x":{"datum":"R","type":"nominal","bandPosition":0.08,"axis":null},"x2":{"datum":"R","bandPosition":1},"y":{"datum":"AA","type":"nominal","bandPosition":0,"axis":null},"y2":{"datum":"TT","bandPosition":1}}},
       {"data":{"name":"codons"},"mark":{"type":"text","font":"Liberation Mono","fontSize":17},
        "encoding":{"x":{"field":"k","type":"nominal","bandPosition":1,"axis":null},"y":{"field":"r","type":"nominal","axis":null},"text":{"field":"c"},
         "color":{"field":"b","type":"nominal","scale":{"domain":["A","B","C","D"],"range":["#e8262c","#4cb6e4","#9440de","#111111"]},"legend":null}}},
       {"data":{"name":"grpL"},"mark":{"type":"text","font":"Liberation Mono","fontSize":20},
        "encoding":{"x":{"datum":"L","type":"nominal","axis":null},"y":{"field":"r","type":"nominal","bandPosition":1,"axis":null},"text":{"field":"n"}}},
       {"data":{"name":"rowsR"},"mark":{"type":"text","font":"Liberation Mono","fontSize":17},
        "encoding":{"x":{"datum":"R","type":"nominal","bandPosition":0.55,"axis":null},"y":{"field":"r","type":"nominal","axis":null},"text":{"field":"n"}}},
       {"data":{"values":[{}]},"mark":{"type":"text","text":"-3 position","fontSize":18,"angle":270},
        "encoding":{"x":{"datum":"P3","type":"nominal","bandPosition":0.5,"axis":null},"y":{"datum":"CT","type":"nominal","bandPosition":1,"axis":null}}},
       {"data":{"values":[{}]},"mark":{"type":"text","text":"-1 position","fontSize":18,"angle":90},
        "encoding":{"x":{"datum":"P1","type":"nominal","bandPosition":0.6,"axis":null},"y":{"datum":"CT","type":"nominal","bandPosition":1,"axis":null}}}
      ]}
    ],"spacing":4}
  ],"spacing":73}
 ],"spacing":14},
 {"vconcat":[
  {"width":635,"height":211,
   "title":{"text":"E","anchor":"start","frame":"bounds","offset":-24,"dx":-22},
   "layer":[
    {"data":{"name":"bars"},"mark":{"type":"bar","strokeWidth":1.5},
     "encoding":{
      "x":{"field":"sub","type":"nominal","scale":{"domain":["AAA|1.1","AAA|2.1","AAC|1.1","AAC|2.1","ATA|1.1","ATA|2.1","AGA|1.1","AGA|2.1"],"paddingInner":0.3,"paddingOuter":0.09},"axis":{"labels":false,"ticks":false,"title":null,"domainWidth":2}},
      "xOffset":{"field":"series","type":"nominal","scale":{"domain":["X019 plasmid lost","X019Δcas1 plasmid lost","X019 spacers acquired"],"paddingInner":0.08,"paddingOuter":0}},
      "y":{"field":"v","type":"quantitative","scale":{"domain":[0,110],"nice":false},"axis":{"title":"percent colonies tested","values":[0,25,50,75,100],"grid":true,"gridColor":"#dcdcdc","gridWidth":1.5,"tickSize":6,"tickWidth":1.5,"domainWidth":2,"labelPadding":3,"titlePadding":12}},
      "fill":{"field":"series","type":"nominal","scale":{"domain":["X019 plasmid lost","X019Δcas1 plasmid lost","X019 spacers acquired"],"range":["#4f5b5b","#ffffff","#c9d1d0"]},
       "legend":{"title":null,"orient":"top","direction":"horizontal","symbolType":"square","symbolSize":256,"labelFontSize":19,"columnPadding":14,"symbolStrokeWidth":1.5,"labelLimit":0,"offset":8}},
      "stroke":{"field":"series","type":"nominal","scale":{"domain":["X019 plasmid lost","X019Δcas1 plasmid lost","X019 spacers acquired"],"range":["#2f3838","#9aa2a2","#8e9898"]},
       "legend":{"title":null,"orient":"top","direction":"horizontal","symbolType":"square","symbolSize":256,"labelFontSize":19,"columnPadding":14,"symbolStrokeWidth":1.5,"labelLimit":0,"offset":8}}}},
    {"data":{"name":"bars"},"transform":[{"filter":"datum.hi != null"}],"mark":{"type":"rule","color":"#555","strokeWidth":1.8},
     "encoding":{"x":{"field":"sub","type":"nominal","title":null},"xOffset":{"field":"series","type":"nominal"},"y":{"field":"v","type":"quantitative","title":"percent colonies tested"},"y2":{"field":"hi"}}},
    {"data":{"name":"bars"},"transform":[{"filter":"datum.hi != null"}],"mark":{"type":"tick","color":"#555","thickness":2,"size":9},
     "encoding":{"x":{"field":"sub","type":"nominal","title":null},"xOffset":{"field":"series","type":"nominal"},"y":{"field":"hi","type":"quantitative","title":"percent colonies tested"}}},
    {"data":{"values":[{"sub":"AGA|1.1","series":"X019 plasmid lost"}]},"mark":{"type":"text","text":"n=90","fontSize":17},
     "encoding":{"x":{"field":"sub","type":"nominal","title":null},"xOffset":{"field":"series","type":"nominal"},"y":{"datum":20,"type":"quantitative","title":"percent colonies tested"}}},
    {"data":{"values":[{"sub":"AGA|1.1","series":"X019 spacers acquired"}]},"mark":{"type":"text","text":"n=48","fontSize":17},
     "encoding":{"x":{"field":"sub","type":"nominal","title":null},"xOffset":{"field":"series","type":"nominal"},"y":{"datum":12,"type":"quantitative","title":"percent colonies tested"}}},
    {"data":{"values":[{"sub":"AGA|1.1","series":"X019 plasmid lost"},{"sub":"AGA|1.1","series":"X019Δcas1 plasmid lost"}]},"mark":{"type":"rule","color":"#333","strokeWidth":1},
     "encoding":{"x":{"field":"sub","type":"nominal","title":null},"xOffset":{"field":"series","type":"nominal"},"y":{"datum":15,"type":"quantitative","title":"percent colonies tested"},"y2":{"datum":3}}},
    {"data":{"values":[{"sub":"AGA|1.1","series":"X019 spacers acquired"}]},"mark":{"type":"rule","color":"#333","strokeWidth":1},
     "encoding":{"x":{"field":"sub","type":"nominal","title":null},"xOffset":{"field":"series","type":"nominal"},"y":{"datum":8,"type":"quantitative","title":"percent colonies tested"},"y2":{"datum":3}}},
    {"data":{"values":[{"sub":"AGA|1.1","series":"X019 plasmid lost"},{"sub":"AGA|1.1","series":"X019Δcas1 plasmid lost"},{"sub":"AGA|1.1","series":"X019 spacers acquired"}]},"mark":{"type":"point","shape":"triangle-down","filled":true,"size":18,"color":"#333","opacity":1},
     "encoding":{"x":{"field":"sub","type":"nominal","title":null},"xOffset":{"field":"series","type":"nominal"},"y":{"datum":3,"type":"quantitative","title":"percent colonies tested"}}}
   ]},
  {"width":635,"height":54,
   "layer":[
    {"data":{"name":"subs"},"mark":{"type":"text","fontSize":18},
     "encoding":{"x":{"field":"sub","type":"nominal","scale":{"domain":["AAA|1.1","AAA|2.1","AAC|1.1","AAC|2.1","ATA|1.1","ATA|2.1","AGA|1.1","AGA|2.1"],"paddingInner":0.3,"paddingOuter":0.09},"axis":null},
      "y":{"datum":"s2","type":"nominal","bandPosition":0.7,"scale":{"domain":["s1","s2","s3","s4","s5"],"paddingInner":0,"paddingOuter":0},"axis":null},"text":{"field":"lab"}}},
    {"data":{"name":"groups"},"mark":{"type":"rule","color":"#111","strokeWidth":2},
     "encoding":{"x":{"field":"from","type":"nominal","bandPosition":-0.07,"axis":null},"y":{"datum":"s2","type":"nominal","bandPosition":0.1,"axis":null},"y2":{"datum":"s3","bandPosition":1}}},
    {"data":{"name":"groups"},"mark":{"type":"rule","color":"#111","strokeWidth":2},
     "encoding":{"x":{"field":"to","type":"nominal","bandPosition":1.09,"axis":null},"y":{"datum":"s2","type":"nominal","bandPosition":0.1,"axis":null},"y2":{"datum":"s3","bandPosition":1}}},
    {"data":{"name":"groups"},"mark":{"type":"rule","color":"#111","strokeWidth":2},
     "encoding":{"x":{"field":"from","type":"nominal","bandPosition":-0.07,"axis":null},"x2":{"field":"to","bandPosition":1.09},"y":{"datum":"s3","type":"nominal","bandPosition":1,"axis":null}}},
    {"data":{"name":"groups"},"mark":{"type":"text","fontSize":17},
     "encoding":{"x":{"field":"from","type":"nominal","bandPosition":1.22,"axis":null},"y":{"datum":"s5","type":"nominal","bandPosition":0.05,"axis":null},"text":{"field":"g"}}}
   ]}
 ],"spacing":0,"bounds":"flush","resolve":{"scale":{"fill":"independent","stroke":"independent"},"legend":{"fill":"independent","stroke":"independent"}}}
],
"spacing":32
}
